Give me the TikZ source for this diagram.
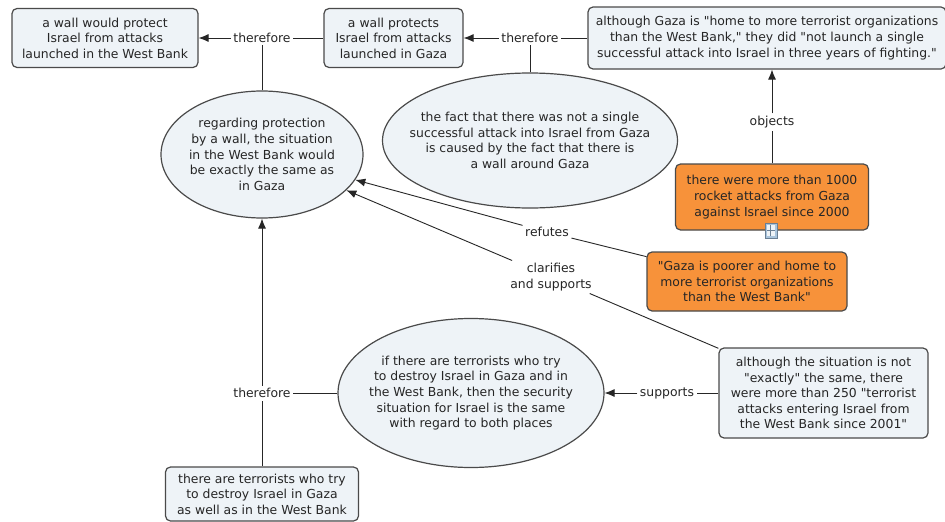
\documentclass[tikz,border=0pt]{standalone}
\usepackage{fontspec}
\setmainfont{DejaVu Sans}[Ligatures=TeXOff]
\usetikzlibrary{shapes.geometric,arrows.meta}
\definecolor{boxfill}{HTML}{EEF3F7}
\definecolor{boxline}{HTML}{4A4A4A}
\definecolor{orangefill}{HTML}{F7923A}
\definecolor{inkgray}{HTML}{262626}
\definecolor{iconblue}{HTML}{A9C4DC}
\definecolor{iconline}{HTML}{6A7F94}
\begin{document}
\begin{tikzpicture}[x=1pt, y=-1pt,
		every node/.style={font=\fontsize{12.4}{15.6}\selectfont, text=inkgray, align=center},
		concept/.style={rectangle, rounded corners=5pt, draw=boxline, line width=1.2pt, fill=boxfill, inner sep=2pt},
		claim/.style={concept, fill=orangefill},
		idea/.style={ellipse, draw=boxline, line width=1.2pt, fill=boxfill, inner xsep=-30pt, inner ysep=-20pt},
		linkword/.style={inner sep=2.5pt},
		link/.style={draw=inkgray, line width=0.9pt},
		arr/.style={link, -{Latex[length=10pt, width=8pt]}},
		icon/.style={rectangle, draw=iconline, fill=iconblue, line width=0.8pt, minimum width=12pt, minimum height=15pt, inner sep=0pt}]
			\fill[white] (0, 0) rectangle (945, 522);
			\useasboundingbox (0, 0) rectangle (945, 522);
			% concepts
			\node[concept, minimum width=186pt, minimum height=59pt] (wallWB) at (105, 38)
				{a wall would protect\\Israel from attacks\\launched in the West Bank};
			\node[concept, minimum width=139pt, minimum height=59pt] (wallGaza) at (393.5, 38)
				{a wall protects\\Israel from attacks\\launched in Gaza};
			\node[concept, minimum width=358pt, minimum height=62pt] (quote) at (767, 38)
				{although Gaza is "home to more terrorist organizations\\than the West Bank," they did "not launch a single\\successful attack into Israel in three years of fighting."};
			\node[idea, minimum width=202pt, minimum height=127pt] (same) at (262, 154.5)
				{regarding protection\\by a wall, the situation\\in the West Bank would\\be exactly the same as\\in Gaza};
			\node[idea, minimum width=295pt, minimum height=135pt] (fact) at (530, 140.5)
				{the fact that there was not a single\\successful attack into Israel from Gaza\\is caused by the fact that there is\\a wall around Gaza};
			\node[claim, minimum width=193pt, minimum height=66pt] (rocket) at (772, 197)
				{there were more than 1000\\rocket attacks from Gaza\\against Israel since 2000};
			\node[icon] (res) at (771, 230.5) {};
			\fill[boxfill] ([shift={(2.5pt,2.5pt)}]res.south west) rectangle ([shift={(-2.5pt,-2.5pt)}]res.north east);
			\draw[iconline, line width=0.6pt] ([xshift=2.5pt]res.west) -- ([xshift=-2.5pt]res.east)
				([shift={(5.5pt,2.5pt)}]res.south west) -- ([shift={(5.5pt,-2.5pt)}]res.north west);
			\node[claim, minimum width=200pt, minimum height=59pt] (poorer) at (747, 281.5)
				{"Gaza is poorer and home to\\more terrorist organizations\\than the West Bank"};
			\node[idea, minimum width=266pt, minimum height=149pt] (both) at (471, 393)
				{if there are terrorists who try\\to destroy Israel in Gaza and in\\the West Bank, then the security\\situation for Israel is the same\\with regard to both places};
			\node[concept, minimum width=209pt, minimum height=90pt] (attacksWB) at (823.5, 393)
				{although the situation is not\\"exactly" the same, there\\were more than 250 "terrorist\\attacks entering Israel from\\the West Bank since 2001"};
			\node[concept, minimum width=193pt, minimum height=54pt] (terror) at (262, 494)
				{there are terrorists who try\\to destroy Israel in Gaza\\as well as in the West Bank};
			% linking words
			\node[linkword] (thf1) at (262, 38) {therefore};
			\node[linkword] (thf2) at (530, 38) {therefore};
			\node[linkword] (objects) at (772, 122) {objects};
			\node[linkword] (refutes) at (547, 232) {refutes};
			\node[linkword] (clarifies) at (551, 277) {clarifies\\and supports};
			\node[linkword] (supports) at (667, 393) {supports};
			\node[linkword] (thf3) at (262, 393) {therefore};
			% connectors
			\draw[link] (wallGaza) -- (thf1);
			\draw[link] (same) -- (thf1);
			\draw[arr] (thf1) -- (wallWB);
			\draw[link] (quote) -- (thf2);
			\draw[link] (fact) -- (thf2);
			\draw[arr] (thf2) -- (wallGaza);
			\draw[link] (rocket) -- (objects);
			\draw[arr] (objects) -- (objects |- quote.south);
			\draw[link] (poorer) -- (refutes);
			\draw[arr] (refutes) -- (same);
			\draw[link] (attacksWB) -- (clarifies);
			\draw[arr] (clarifies) -- (same);
			\draw[link] (attacksWB) -- (supports);
			\draw[arr] (supports) -- (both);
			\draw[link] (both) -- (thf3);
			\draw[link] (terror) -- (thf3);
			\draw[arr] (thf3) -- (same);
		\end{tikzpicture}
\end{document}
